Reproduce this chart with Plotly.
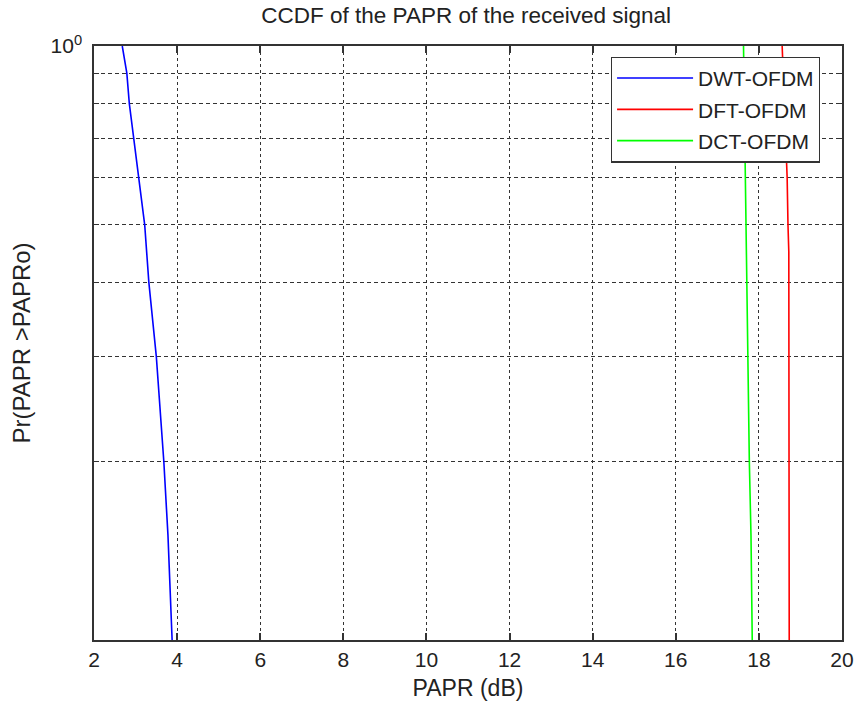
import plotly.graph_objects as go

# DWT-OFDM curve
dwt_p = [1.0, 0.9, 0.8, 0.7, 0.6, 0.5, 0.4, 0.3, 0.2, 0.15, 0.1]
dwt_x = [2.68, 2.79, 2.85, 2.96, 3.08, 3.22, 3.32, 3.50, 3.68, 3.78, 3.88]

# DFT-OFDM curve
dft_p = [1.0, 0.8, 0.6, 0.5, 0.45, 0.1]
dft_x = [18.56, 18.62, 18.68, 18.70, 18.72, 18.73]

# DCT-OFDM curve
dct_p = [1.0, 0.7, 0.5, 0.4, 0.3, 0.2, 0.15, 0.1]
dct_x = [17.63, 17.66, 17.70, 17.72, 17.74, 17.77, 17.81, 17.84]

x_ticks = [2, 4, 6, 8, 10, 12, 14, 16, 18, 20]
y_ticks = [0.2, 0.3, 0.4, 0.5, 0.6, 0.7, 0.8, 0.9, 1.0]
y_text = ["", "", "", "", "", "", "", "", "10<sup>0</sup>"]

FONT = "Liberation Sans, Arial, sans-serif"
TXT = "#222"

fig = go.Figure()
fig.add_trace(go.Scatter(x=dwt_x, y=dwt_p, mode="lines", name="DWT-OFDM", legendgroup="a",
                         line=dict(color="#0000ff", width=1.6)))
fig.add_trace(go.Scatter(x=dft_x, y=dft_p, mode="lines", name="DFT-OFDM", legendgroup="b",
                         line=dict(color="#ff0000", width=1.6)))
fig.add_trace(go.Scatter(x=dct_x, y=dct_p, mode="lines", name="DCT-OFDM", legendgroup="c",
                         line=dict(color="#00ff00", width=1.6)))

fig.update_layout(
    width=857, height=702,
    paper_bgcolor="white", plot_bgcolor="white",
    margin=dict(l=94, r=15, t=46, b=62, autoexpand=False),
    font=dict(family=FONT, size=20, color=TXT),
    title=dict(text="CCDF of the PAPR of the received signal", x=0.544, xanchor="center",
               y=0.979, yanchor="middle", font=dict(size=22.5, family=FONT, color=TXT)),
    showlegend=True,
    legend=dict(x=0.691, y=0.982, xanchor="left", yanchor="top",
                bgcolor="white", bordercolor="#333", borderwidth=1.2,
                font=dict(size=21, family=FONT, color=TXT),
                itemwidth=76, tracegroupgap=1),
)

fig.update_xaxes(
    range=[2, 20], tickvals=x_ticks, ticks="inside", ticklen=7, tickcolor="#333", tickwidth=1.5,
    showline=True, linecolor="#333", linewidth=1.5, mirror="ticks",
    showgrid=True, gridcolor="#333", gridwidth=1.3, griddash="dot",
    zeroline=False,
    title=dict(text="PAPR (dB)", font=dict(size=23, family=FONT, color=TXT), standoff=10),
    tickfont=dict(size=21, family=FONT, color=TXT),
)
fig.update_yaxes(
    type="log", range=[-1, 0], tickvals=y_ticks, ticktext=y_text,
    ticks="inside", ticklen=5, tickcolor="#333",
    showline=True, linecolor="#333", linewidth=1.5, mirror="ticks",
    showgrid=True, gridcolor="#333", gridwidth=1.2, griddash="4px,3px",
    zeroline=False, ticklabelstandoff=6,
    title=dict(text="Pr(PAPR >PAPRo)", font=dict(size=24, family=FONT, color=TXT), standoff=13),
    tickfont=dict(size=21, family=FONT, color=TXT),
)

fig.write_html("out.html", config={"displayModeBar": False},
               post_script="document.body.style.margin='0';document.body.style.overflow='hidden';")
